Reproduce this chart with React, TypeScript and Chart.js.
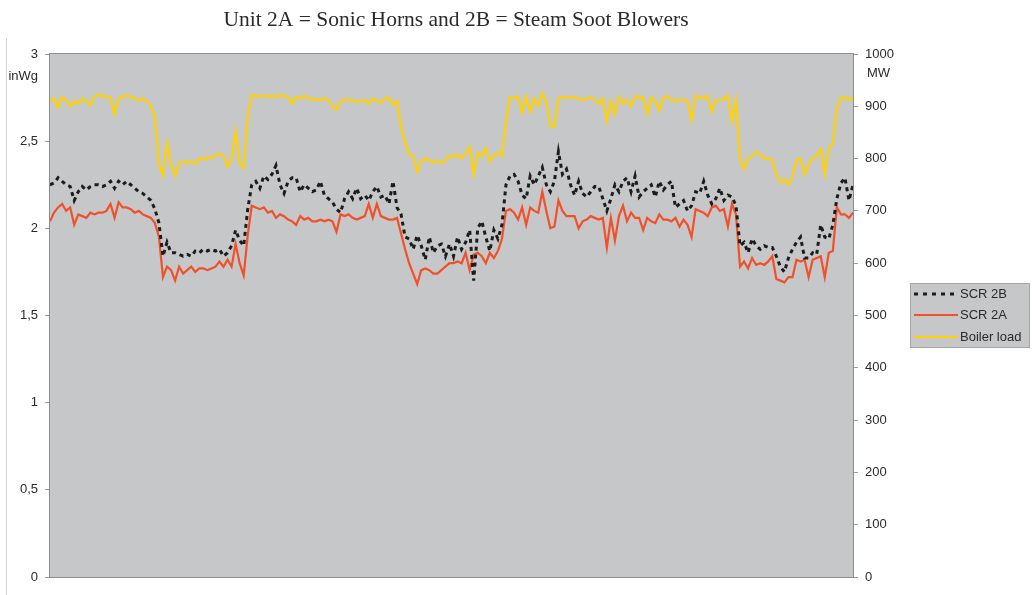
import React, { useEffect, useRef } from 'react';
import { Chart, registerables } from 'chart.js';

Chart.register(...registerables);

const TITLE = 'Unit 2A = Sonic Horns and 2B = Steam Soot Blowers';
const LEFT_UNIT = 'inWg';
const RIGHT_UNIT = 'MW';
const SERIES_NAMES = ['SCR 2B', 'SCR 2A', 'Boiler load'];

// SCR 2B differential pressure (inWg)
const scr2b = [
  2.25, 2.26, 2.29, 2.27, 2.25, 2.24, 2.16, 2.21, 2.24, 2.22,
  2.24, 2.25, 2.25, 2.24, 2.25, 2.27, 2.23, 2.27, 2.25, 2.27,
  2.25, 2.23, 2.21, 2.20, 2.18, 2.16, 2.11, 2.03, 1.84, 1.92,
  1.86, 1.86, 1.85, 1.84, 1.85, 1.84, 1.87, 1.86, 1.88, 1.87,
  1.88, 1.87, 1.88, 1.84, 1.86, 1.90, 1.99, 1.93, 1.90, 2.11,
  2.25, 2.27, 2.23, 2.30, 2.28, 2.31, 2.36, 2.25, 2.20, 2.27,
  2.29, 2.29, 2.21, 2.25, 2.23, 2.21, 2.22, 2.27, 2.19, 2.17,
  2.15, 2.11, 2.09, 2.17, 2.21, 2.17, 2.23, 2.17, 2.19, 2.16,
  2.21, 2.24, 2.18, 2.19, 2.14, 2.27, 2.12, 2.08, 1.95, 1.94,
  1.88, 1.96, 1.90, 1.82, 1.95, 1.86, 1.90, 1.91, 1.84, 1.91,
  1.84, 1.95, 1.88, 1.92, 1.99, 1.70, 2.00, 2.04, 1.95, 1.87,
  1.99, 1.94, 2.02, 2.25, 2.30, 2.31, 2.27, 2.19, 2.17, 2.30,
  2.25, 2.30, 2.35, 2.25, 2.21, 2.27, 2.44, 2.31, 2.34, 2.25,
  2.19, 2.27, 2.20, 2.18, 2.21, 2.24, 2.24, 2.17, 2.10, 2.17,
  2.25, 2.21, 2.27, 2.29, 2.21, 2.30, 2.18, 2.21, 2.23, 2.25,
  2.18, 2.27, 2.22, 2.25, 2.27, 2.12, 2.14, 2.16, 2.10, 2.13,
  2.21, 2.20, 2.27, 2.19, 2.14, 2.17, 2.23, 2.16, 2.19, 2.18,
  2.13, 1.90, 1.92, 1.86, 1.94, 1.90, 1.88, 1.90, 1.89, 1.89,
  1.84, 1.78, 1.75, 1.83, 1.88, 1.92, 1.95, 1.83, 1.83, 1.86,
  1.85, 2.02, 1.95, 1.94, 2.02, 2.17, 2.26, 2.29, 2.16, 2.25,
];

// SCR 2A differential pressure (inWg)
const scr2a = [
  2.04, 2.09, 2.12, 2.14, 2.10, 2.12, 2.02, 2.08, 2.07, 2.06,
  2.09, 2.08, 2.09, 2.09, 2.10, 2.14, 2.06, 2.15, 2.12, 2.12,
  2.11, 2.09, 2.10, 2.08, 2.07, 2.06, 2.03, 1.95, 1.72, 1.78,
  1.76, 1.70, 1.78, 1.74, 1.76, 1.78, 1.75, 1.77, 1.77, 1.76,
  1.77, 1.78, 1.81, 1.78, 1.82, 1.78, 1.91, 1.80, 1.73, 1.96,
  2.13, 2.12, 2.11, 2.12, 2.09, 2.10, 2.06, 2.08, 2.07, 2.05,
  2.04, 2.02, 2.07, 2.05, 2.06, 2.04, 2.04, 2.05, 2.04, 2.05,
  2.04, 1.98, 2.08, 2.07, 2.08, 2.06, 2.05, 2.06, 2.07, 2.14,
  2.06, 2.14, 2.07, 2.06, 2.05, 2.05, 2.06, 1.97, 1.88, 1.80,
  1.74, 1.68, 1.76, 1.77, 1.76, 1.74, 1.74, 1.76, 1.78, 1.80,
  1.80, 1.81, 1.80, 1.86, 1.76, 1.85, 1.86, 1.84, 1.80, 1.86,
  1.83, 1.87, 1.94, 2.10, 2.11, 2.09, 2.05, 2.12, 2.02, 2.12,
  2.10, 2.09, 2.21, 2.10, 2.00, 2.01, 2.16, 2.10, 2.07, 2.07,
  2.07, 2.00, 2.04, 2.05, 2.07, 2.06, 2.05, 2.06, 1.89, 2.06,
  1.93, 2.07, 2.13, 2.04, 2.09, 2.06, 2.06, 1.99, 2.06, 2.04,
  2.03, 2.08, 2.05, 2.05, 2.04, 2.06, 2.01, 2.05, 2.02, 1.95,
  2.11, 2.10, 2.09, 2.07, 2.12, 2.13, 2.10, 2.11, 2.01, 2.14,
  2.08, 1.78, 1.81, 1.77, 1.83, 1.79, 1.80, 1.79, 1.81, 1.84,
  1.71, 1.70, 1.69, 1.72, 1.72, 1.82, 1.81, 1.82, 1.72, 1.82,
  1.83, 1.84, 1.72, 1.86, 1.87, 2.12, 2.08, 2.08, 2.06, 2.09,
];

// Boiler load (MW)
const boilerLoad = [
  910, 915, 898, 918, 912, 900, 910, 905, 915, 910,
  902, 918, 922, 920, 918, 916, 885, 915, 918, 922,
  918, 916, 912, 914, 910, 900, 880, 790, 768, 830,
  790, 767, 790, 795, 792, 795, 790, 800, 798, 803,
  801, 806, 810, 805, 785, 800, 852, 790, 782, 880,
  922, 920, 918, 921, 918, 920, 919, 920, 921, 917,
  905, 918, 915, 920, 916, 912, 914, 912, 915, 912,
  900, 893, 910, 912, 913, 911, 910, 908, 912, 905,
  915, 910, 906, 916, 917, 903, 910, 860, 830, 808,
  805, 775, 795, 800, 797, 792, 796, 792, 796, 806,
  803, 808, 800, 810, 822, 770, 811, 805, 820, 795,
  805, 812, 805, 870, 918, 916, 918, 888, 918, 890,
  915, 900, 925, 910, 862, 860, 915, 918, 917, 916,
  918, 914, 912, 915, 918, 912, 905, 915, 872, 910,
  885, 918, 905, 912, 900, 920, 916, 918, 885, 916,
  912, 892, 915, 920, 912, 910, 913, 912, 910, 874,
  920, 918, 915, 920, 890, 910, 912, 914, 920, 870,
  912, 800, 780, 800, 805, 812, 808, 800, 800, 798,
  770, 755, 760, 750, 765, 798, 800, 770, 790, 800,
  805, 818, 770, 820, 828, 895, 916, 918, 912, 918,
];

const categories = scr2b.map((_, i) => String(i + 1));

const PLOT_BG = '#c6c7c9';
const COL_2B = '#1c1c1c';
const COL_2A = '#f0512b';
const COL_LOAD = '#ffd200';
const TEXT = '#2a2a2a';
const SANS = "'Liberation Sans', Arial, sans-serif";

const decor = {
  id: 'decor',
  beforeDraw(chart: any) {
    const { ctx, chartArea: a } = chart;
    ctx.save();
    ctx.fillStyle = '#ffffff';
    ctx.fillRect(0, 0, chart.width, chart.height);
    ctx.fillStyle = PLOT_BG;
    ctx.fillRect(a.left, a.top, a.right - a.left, a.bottom - a.top);
    ctx.restore();
  },
  afterDraw(chart: any) {
    const { ctx, chartArea: a } = chart;
    ctx.save();
    // outer frame line
    ctx.strokeStyle = '#d4d4d4';
    ctx.lineWidth = 1;
    ctx.beginPath();
    ctx.moveTo(6.5, 38);
    ctx.lineTo(6.5, 595);
    ctx.stroke();
    // plot border
    ctx.strokeStyle = '#8e8e8e';
    ctx.strokeRect(a.left - 0.5, a.top - 0.5, a.right - a.left + 1, a.bottom - a.top + 1);
    // title
    ctx.fillStyle = TEXT;
    ctx.font = "21.5px 'Liberation Serif', 'Times New Roman', serif";
    ctx.textAlign = 'center';
    ctx.textBaseline = 'middle';
    ctx.fillText(TITLE, 456, 20);
    // units
    ctx.font = `13px ${SANS}`;
    ctx.textAlign = 'right';
    ctx.fillText(LEFT_UNIT, 38, 76);
    ctx.textAlign = 'left';
    ctx.fillText(RIGHT_UNIT, 867, 73);
    // legend
    const lx = 910, ly = 283, lw = 120, lh = 65;
    ctx.fillStyle = PLOT_BG;
    ctx.fillRect(lx, ly, lw, lh);
    ctx.strokeStyle = '#a6a6a6';
    ctx.strokeRect(lx + 0.5, ly + 0.5, lw - 1, lh - 1);
    const rows = [
      { y: 294, color: COL_2B, dash: [4, 5], w: 3 },
      { y: 315, color: COL_2A, dash: [], w: 2 },
      { y: 337, color: COL_LOAD, dash: [], w: 2 },
    ];
    rows.forEach((r, k) => {
      ctx.strokeStyle = r.color;
      ctx.lineWidth = r.w;
      ctx.setLineDash(r.dash);
      ctx.beginPath();
      ctx.moveTo(914, r.y);
      ctx.lineTo(958, r.y);
      ctx.stroke();
      ctx.setLineDash([]);
      ctx.fillStyle = TEXT;
      ctx.font = `13px ${SANS}`;
      ctx.textAlign = 'left';
      ctx.textBaseline = 'middle';
      ctx.fillText(SERIES_NAMES[k], 960, r.y);
    });
    ctx.restore();
  },
};

export default function App() {
  const ref = useRef<HTMLCanvasElement>(null);
  useEffect(() => {
    const chart = new Chart(ref.current as HTMLCanvasElement, {
      type: 'line',
      data: {
        labels: categories,
        datasets: [
          {
            label: SERIES_NAMES[0],
            data: scr2b,
            yAxisID: 'y',
            borderColor: COL_2B,
            borderWidth: 3,
            borderDash: [4, 4],
            borderCapStyle: 'butt',
            pointRadius: 0,
            tension: 0,
            fill: false,
          },
          {
            label: SERIES_NAMES[1],
            data: scr2a,
            yAxisID: 'y',
            borderColor: COL_2A,
            borderWidth: 2.2,
            pointRadius: 0,
            tension: 0,
            fill: false,
          },
          {
            label: SERIES_NAMES[2],
            data: boilerLoad,
            yAxisID: 'y1',
            borderColor: COL_LOAD,
            borderWidth: 2.2,
            pointRadius: 0,
            tension: 0,
            fill: false,
          },
        ],
      },
      options: {
        responsive: false,
        devicePixelRatio: 1,
        animation: false,
        layout: { padding: { top: 54, bottom: 18, left: 0, right: 0 } },
        plugins: {
          legend: { display: false },
          title: { display: false },
          tooltip: { enabled: false },
        },
        scales: {
          x: { display: false, offset: false },
          y: {
            position: 'left',
            min: 0,
            max: 3,
            ticks: {
              stepSize: 0.5,
              padding: 7,
              color: TEXT,
              font: { family: SANS, size: 13 },
              callback: (v: any) => String(v).replace('.', ','),
            },
            grid: { drawOnChartArea: false, tickLength: 5, color: '#9a9a9a' },
            border: { display: false },
            afterFit: (s: any) => { s.width = 50; },
          },
          y1: {
            position: 'right',
            min: 0,
            max: 1000,
            ticks: {
              stepSize: 100,
              padding: 7,
              color: TEXT,
              font: { family: SANS, size: 13 },
              callback: (v: any) => String(v),
            },
            grid: { drawOnChartArea: false, tickLength: 5, color: '#9a9a9a' },
            border: { display: false },
            afterFit: (s: any) => { s.width = 179; },
          },
        },
      },
      plugins: [decor],
    } as any);
    return () => chart.destroy();
  }, []);
  return (
    <canvas
      ref={ref}
      width={1032}
      height={595}
      style={{ position: 'fixed', left: 0, top: 0, width: 1032, height: 595 }}
    />
  );
}
